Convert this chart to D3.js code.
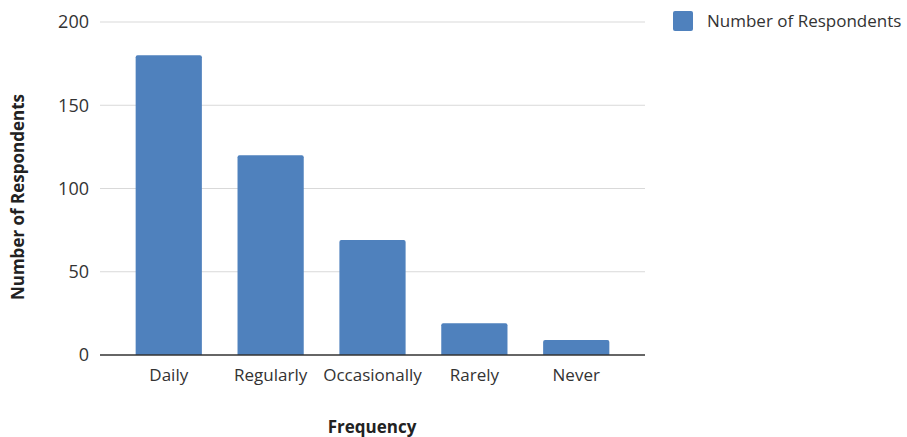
<!DOCTYPE html>
<html>
<head>
<meta charset="utf-8">
<script src="https://cdn.jsdelivr.net/npm/d3@7"></script>
<style>
	body { margin: 0; background: #fff; }
	text { font-family: 'Open Sans', sans-serif; fill: #333; }
</style>
</head>
<body>
<div id="chart"></div>
<script>
	const categories = ['Daily', 'Regularly', 'Occasionally', 'Rarely', 'Never'];
	const respondents = [180, 120, 69, 19, 9];
	const yTicks = [0, 50, 100, 150, 200];
	const seriesName = 'Number of Respondents';

	const width = 907;
	const height = 437;
	const plot = { left: 100, right: 645, top: 22, bottom: 355 };
	const barColor = '#4f81bd';

	const svg = d3.select('#chart').append('svg')
		.attr('width', width)
		.attr('height', height);

	const x = d3.scaleBand()
		.domain(categories)
		.range([plot.left, plot.right])
		.paddingInner(0.35)
		.paddingOuter(0.35);
	const y = d3.scaleLinear()
		.domain([0, 200])
		.range([plot.bottom, plot.top]);

	// gridlines
	svg.append('g')
		.selectAll('line')
		.data(yTicks.filter(d => d > 0))
		.enter()
		.append('line')
			.attr('x1', plot.left)
			.attr('x2', plot.right)
			.attr('y1', d => y(d))
			.attr('y2', d => y(d))
			.style('stroke', '#d9d9d9')
			.style('stroke-width', 1.2);

	// bars with slightly rounded tops
	const r = 2;
	svg.append('g')
		.selectAll('path')
		.data(categories)
		.enter()
		.append('path')
			.style('fill', barColor)
			.attr('d', (d, i) => {
				const x0 = x(d);
				const x1 = x0 + x.bandwidth();
				const y0 = y(0);
				const y1 = y(respondents[i]);
				return `M${x0},${y0}V${y1 + r}Q${x0},${y1} ${x0 + r},${y1}`
					+ `H${x1 - r}Q${x1},${y1} ${x1},${y1 + r}V${y0}Z`;
			});

	// baseline
	svg.append('line')
		.attr('x1', plot.left)
		.attr('x2', plot.right)
		.attr('y1', y(0))
		.attr('y2', y(0))
		.style('stroke', '#333')
		.style('stroke-width', 1.5);

	const yAxis = d3.axisLeft(y)
		.tickValues(yTicks)
		.tickSize(0)
		.tickPadding(11);
	const yAxisG = svg.append('g')
		.attr('transform', `translate(${plot.left}, 0)`)
		.call(yAxis);
	yAxisG.select('.domain').remove();
	yAxisG.selectAll('text')
		.style('font-size', '18px')
		.style('font-family', "'Open Sans', sans-serif")
		.style('fill', '#333');

	const xAxis = d3.axisBottom(x)
		.tickSize(0)
		.tickPadding(14);
	const xAxisG = svg.append('g')
		.attr('transform', `translate(0, ${plot.bottom})`)
		.call(xAxis);
	xAxisG.select('.domain').remove();
	xAxisG.selectAll('text')
		.style('font-size', '17px')
		.style('font-family', "'Open Sans', sans-serif")
		.style('fill', '#333');

	// axis titles
	svg.append('text')
		.attr('x', 372)
		.attr('y', 433)
		.style('font-size', '17px')
		.style('font-weight', 700)
		.style('fill', '#222')
		.style('text-anchor', 'middle')
		.text('Frequency');
	svg.append('text')
		.attr('transform', 'rotate(-90)')
		.attr('x', -197)
		.attr('y', 24)
		.style('font-size', '17px')
		.style('font-weight', 700)
		.style('fill', '#222')
		.style('text-anchor', 'middle')
		.text(seriesName);

	// legend
	const legendG = svg.append('g')
		.attr('transform', 'translate(673, 11)');
	legendG.append('rect')
		.attr('width', 20)
		.attr('height', 20)
		.attr('rx', 2)
		.style('fill', barColor);
	legendG.append('text')
		.attr('x', 34)
		.attr('y', 10)
		.attr('dy', '0.35em')
		.style('font-size', '17px')
		.text(seriesName);
</script>
</body>
</html>
